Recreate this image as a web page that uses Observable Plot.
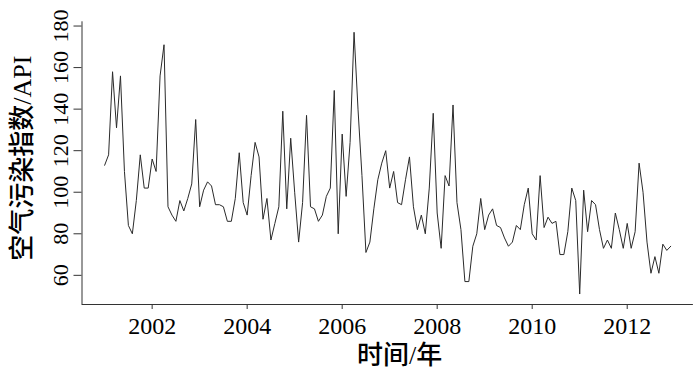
<!DOCTYPE html>
<html><head><meta charset="utf-8">
<script src="https://cdn.jsdelivr.net/npm/d3@7"></script>
<script src="https://cdn.jsdelivr.net/npm/@observablehq/plot@0.6"></script>
<style>html,body{margin:0;padding:0;background:#fff} svg{display:block}</style>
</head><body><div id="chart"></div>
<script>
// Monthly API values, Jan 2001 .. Dec 2012
const startYear = 2001;
const api = [
  113,118,158,131,156,110, 84, 80, 96,118,102,102,   // 2001
  116,110,156,171, 93, 89, 86, 96, 91, 97,104,135,   // 2002
   93,101,105,103, 94, 94, 93, 86, 86, 97,119, 95,   // 2003
   89,108,124,117, 87, 97, 77, 85, 93,139, 92,126,   // 2004
  100, 76, 95,137, 93, 92, 86, 89, 98,102,149, 80,   // 2005
  128, 98,124,177,140,108, 71, 76, 92,106,114,120,   // 2006
  102,110, 95, 94,106,117, 93, 82, 89, 80,102,138,   // 2007
   90, 73,108,103,142, 95, 82, 57, 57, 74, 80, 97,   // 2008
   82, 89, 92, 84, 83, 78, 74, 76, 84, 82, 94,102,   // 2009
   80, 77,108, 83, 88, 85, 86, 70, 70, 81,102, 96,   // 2010
   51,101, 81, 96, 94, 82, 73, 77, 73, 90, 82, 73,   // 2011
   85, 73, 81,114,100, 76, 61, 69, 61, 75, 72, 74    // 2012
];
const xTicks = [2002, 2004, 2006, 2008, 2010, 2012];
const yTicks = [60, 80, 100, 120, 140, 160, 180];
const xTitle = ["时间/年"];
const yTitle = ["空气污染指数/API"];

const data = api.map((v, i) => ({t: startYear + i / 12, v}));
const pad = ([a, b]) => { const s = (b - a) * 0.04; return [a - s, b + s]; };
const xDom = pad(d3.extent(data, d => d.t));
const yDom = pad(d3.extent(api));

const serif = "'Liberation Serif', 'Times New Roman', serif";
const cjk = "'Liberation Serif', 'Noto Sans CJK SC', sans-serif";

const chart = Plot.plot({
  width: 700,
  height: 375,
  marginLeft: 81.5,
  marginRight: 7.1,
  marginTop: 21.3,
  marginBottom: 71,
  style: {fontFamily: serif, background: "#fff", color: "#000"},
  x: {domain: xDom},
  y: {domain: yDom},
  marks: [
    Plot.ruleX([xDom[0]], {stroke: "#333", strokeWidth: 1}),
    Plot.ruleY([yDom[0]], {stroke: "#333", strokeWidth: 1}),
    Plot.axisX({ticks: xTicks, tickSize: 5, tickPadding: 7, fontSize: 24, fontFamily: serif,
                tickFormat: d => String(d), label: null, stroke: "#333"}),
    Plot.axisY({ticks: yTicks, tickSize: 8, tickPadding: 6, tickRotate: -90, fontSize: 22,
                fontFamily: serif, tickFormat: d => String(d), label: null, stroke: "#333"}),
    Plot.line(data, {x: "t", y: "v", stroke: "#2a2a2a", strokeWidth: 1}),
    Plot.text(yTitle, {frameAnchor: "left", text: d => d, rotate: -90, dx: -59, dy: -5,
                       fontSize: 26, fontFamily: cjk, fontWeight: 500, textAnchor: "middle", lineAnchor: "middle", fill: "#000"}),
    Plot.text(xTitle, {frameAnchor: "bottom", text: d => d, dx: 12, dy: 51,
                       fontSize: 26, fontFamily: cjk, fontWeight: 500, textAnchor: "middle", lineAnchor: "middle", fill: "#000"})
  ]
});
document.getElementById("chart").appendChild(chart);
</script>
</body></html>
